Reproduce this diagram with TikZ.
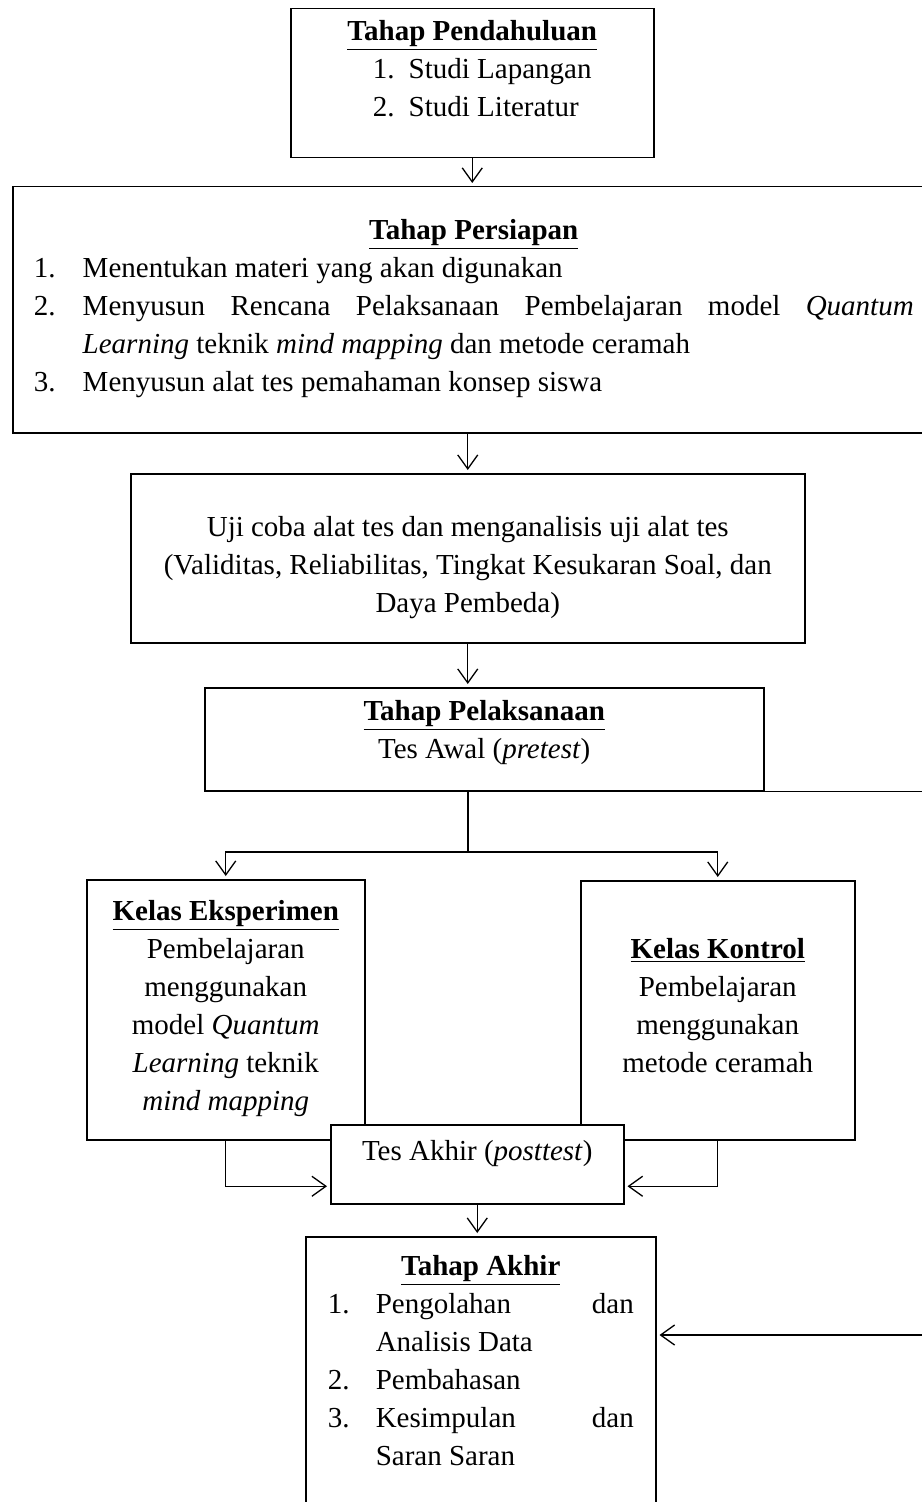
\documentclass[tikz,border=0pt]{standalone}
\usepackage{fontspec}
\setmainfont{Liberation Serif}
\usetikzlibrary{arrows.meta,positioning}

\newcommand{\tahap}[1]{\underline{\textbf{#1}}}
\newcommand{\butir}[3]{\par\hangindent=#1\hangafter=1\noindent\makebox[#1][l]{#2}#3\par}

\begin{document}
\begin{tikzpicture}[x=0.5pt, y=-0.5pt,
    kotak/.style={draw, line width=0.75pt, anchor=north west, inner ysep=0pt, inner xsep=5pt,
      font=\fontsize{14.5pt}{19pt}\selectfont},
    tengah/.style={align=center, execute at begin node={\spaceskip=.25em\xspaceskip=.25em\relax}},
    panah/.style={line width=0.65pt, -{Straight Barb[length=7pt,width=10pt]}, shorten >=1.5pt},
    garis/.style={line width=0.65pt}]
    \useasboundingbox (0,0) rectangle (921,1502);

    % Tahap pendahuluan
    \node[kotak, text width=171.5pt, align=justify, text height=16pt, text depth=58.5pt] (pend) at (290,8)
      {{\centering\tahap{Tahap Pendahuluan}\par}\leftskip=36pt
       \butir{18pt}{1.}{Studi Lapangan}\butir{18pt}{2.}{Studi Literatur}};

    % Tahap persiapan
    \node[kotak, inner xsep=10.5pt, text width=440pt, align=justify, text height=26.5pt, text depth=96.5pt] (prep) at (12,186)
      {{\centering\tahap{Tahap Persiapan}\par}
       \butir{24.5pt}{1.}{Menentukan materi yang akan digunakan}
       \butir{24.5pt}{2.}{Menyusun Rencana Pelaksanaan Pembelajaran model \textit{Quantum}\linebreak \textit{Learning} teknik \textit{mind mapping} dan metode ceramah}
       \butir{24.5pt}{3.}{Menyusun alat tes pemahaman konsep siswa}};

    % Uji coba
    \node[kotak, tengah, text width=327pt, text height=31.5pt, text depth=53pt] (uji) at (130,473)
      {Uji coba alat tes dan menganalisis uji alat tes\\(Validitas, Reliabilitas, Tingkat Kesukaran Soal, dan\\Daya Pembeda)};

    % Tahap pelaksanaan
    \node[kotak, tengah, text width=269.5pt, text height=16.5pt, text depth=35pt] (pel) at (204,687)
      {\tahap{Tahap Pelaksanaan}\\Tes Awal (\textit{pretest})};

    % Kelas
    \node[kotak, tengah, text width=129pt, text height=20.5pt, text depth=109.5pt] (eks) at (86,879)
      {\tahap{Kelas Eksperimen}\\Pembelajaran\\menggunakan\\model \textit{Quantum}\\\textit{Learning} teknik\\\textit{mind mapping}};
    \node[kotak, tengah, text width=127pt, text height=39pt, text depth=90.5pt] (kon) at (580,880)
      {\tahap{Kelas Kontrol}\\Pembelajaran\\menggunakan\\metode ceramah};

    % Tes akhir
    \node[kotak, tengah, fill=white, text width=136.5pt, text height=18pt, text depth=21.5pt] (post) at (330,1124)
      {Tes Akhir (\textit{posttest})};

    % Tahap akhir
    \node[kotak, inner xsep=11pt, text width=153pt, align=justify, text height=19.5pt, text depth=130pt] (akhir) at (305,1236)
      {{\centering\tahap{Tahap Akhir}\par}
       \butir{24pt}{1.}{Pengolahan dan\linebreak Analisis Data}
       \butir{24pt}{2.}{Pembahasan}
       \butir{24pt}{3.}{Kesimpulan dan\linebreak Saran Saran}};

    % Alur
    \coordinate (cabang) at (468,852);
    \coordinate (balik1) at (960,790);
    \coordinate (balik2) at (960,1335);

    \draw[panah] (pend.south) -- (pend.south |- prep.north);
    \draw[panah] (uji.north |- prep.south) -- (uji.north);
    \draw[panah] (uji.south) -- (uji.south |- pel.north);
    \draw[garis] (cabang |- pel.south) -- (cabang);
    \draw[panah] (cabang) -| (eks.north);
    \draw[panah] (cabang) -| (kon.north);
    \draw[panah] (eks.south) |- ([yshift=-11pt]post.west);
    \draw[panah] (kon.south) |- ([yshift=-11pt]post.east);
    \draw[panah] (post.south) -- (post.south |- akhir.north);
    \draw[panah] (pel.south east) -- (balik1 |- pel.south east) -- (balik2) -- (balik2 -| akhir.east);
\end{tikzpicture}
\end{document}
